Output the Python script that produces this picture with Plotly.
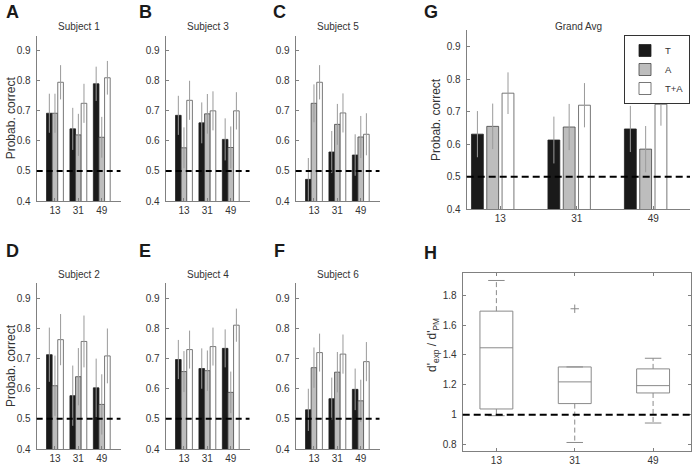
import plotly.graph_objects as go

FIG_W, FIG_H = 692, 467

# ---------------- data ----------------
intensity_labels = ["13", "31", "49"]
conditions = ["T", "A", "T+A"]

subject_titles = ["Subject 1", "Subject 3", "Subject 5", "Subject 2", "Subject 4", "Subject 6"]
panel_letters = ["A", "B", "C", "D", "E", "F"]

# rows: T, A, T+A ; columns: intensities 13, 31, 49
subj1_mean = [[0.692, 0.640, 0.790], [0.692, 0.620, 0.612], [0.795, 0.725, 0.810]]
subj1_err = [[0.065, 0.070, 0.057], [0.065, 0.070, 0.068], [0.057, 0.065, 0.056]]
subj3_mean = [[0.685, 0.660, 0.605], [0.577, 0.690, 0.578], [0.735, 0.700, 0.700]]
subj3_err = [[0.065, 0.068, 0.070], [0.068, 0.066, 0.070], [0.065, 0.065, 0.062]]
subj5_mean = [[0.472, 0.563, 0.553], [0.725, 0.655, 0.613], [0.795, 0.693, 0.622]]
subj5_err = [[0.071, 0.070, 0.069], [0.063, 0.068, 0.070], [0.057, 0.065, 0.070]]
subj2_mean = [[0.713, 0.577, 0.603], [0.610, 0.640, 0.548], [0.763, 0.757, 0.709]]
subj2_err = [[0.090, 0.100, 0.097], [0.100, 0.095, 0.100], [0.085, 0.086, 0.091]]
subj4_mean = [[0.697, 0.667, 0.734], [0.657, 0.660, 0.588], [0.730, 0.740, 0.811]]
subj4_err = [[0.065, 0.067, 0.063], [0.068, 0.067, 0.069], [0.063, 0.063, 0.055]]
subj6_mean = [[0.530, 0.567, 0.598], [0.670, 0.655, 0.560], [0.720, 0.715, 0.690]]
subj6_err = [[0.070, 0.070, 0.069], [0.067, 0.067, 0.070], [0.063, 0.065, 0.065]]

grand_mean = [[0.631, 0.613, 0.647], [0.655, 0.653, 0.585], [0.757, 0.720, 0.723]]
grand_err = [[0.071, 0.072, 0.071], [0.070, 0.071, 0.071], [0.064, 0.068, 0.066]]

chance_level = 0.5
prob_ticks = [0.4, 0.5, 0.6, 0.7, 0.8, 0.9]
prob_ticklabels = ["0.4", "0.5", "0.6", "0.7", "0.8", "0.9"]

# panel H: d'exp / d'PM box statistics per intensity
ratio_lo = [0.994, 0.815, 0.945]
ratio_q1 = [1.039, 1.075, 1.146]
ratio_med = [1.448, 1.220, 1.195]
ratio_q3 = [1.693, 1.320, 1.307]
ratio_hi = [1.898, 1.320, 1.378]
ratio_outlier_labels = ["31"]
ratio_outlier_values = [1.709]
ratio_reference = 1.0
ratio_ticks = [0.8, 1.0, 1.2, 1.4, 1.6, 1.8]
ratio_ticklabels = ["0.8", "1", "1.2", "1.4", "1.6", "1.8"]

subject_means = [subj1_mean, subj3_mean, subj5_mean, subj2_mean, subj4_mean, subj6_mean]
subject_errs = [subj1_err, subj3_err, subj5_err, subj2_err, subj4_err, subj6_err]

# ---------------- style ----------------
FONT = "Liberation Sans, Arial, sans-serif"
TXT = "#333333"
AXC = "#808080"
bar_fill = ["#1a1a1a", "#bdbdbd", "#ffffff"]
bar_edge = ["#222222", "#444444", "#555555"]
ERRC = "#9a9a9a"
BOXC = "#8a8a8a"


def fx(px):
    return px / FIG_W


def fy(py):
    return 1 - py / FIG_H


def ax_id(n):
    return ("x" if n == 1 else f"x{n}"), ("y" if n == 1 else f"y{n}")


xpos = list(range(1, len(intensity_labels) + 1))

# pixel boxes (left, right, top, bottom)
subj_boxes = [
    (36.7, 120.5, 35.7, 201.0), (165.7, 249.5, 35.7, 201.0), (295.7, 379.5, 35.7, 201.0),
    (36.7, 120.5, 283.3, 449.0), (165.7, 249.5, 283.3, 449.0), (295.7, 379.5, 283.3, 449.0),
]
g_box = (466.7, 690.0, 30.4, 209.3)
h_box = (462.7, 690.7, 272.7, 450.7)

fig = go.Figure()
layout = dict(
    width=FIG_W, height=FIG_H, margin=dict(l=0, r=0, t=0, b=0, autoexpand=False),
    paper_bgcolor="white", plot_bgcolor="white",
    font=dict(family=FONT, size=10, color=TXT),
    barmode="overlay", showlegend=True,
)
shapes = []
annotations = []


def axis_common():
    return dict(showline=True, linecolor=AXC, linewidth=1, ticks="inside", ticklen=3,
                tickcolor=AXC, showgrid=False, zeroline=False, automargin=False,
                tickfont=dict(family=FONT, size=10, color=TXT))


def layout_key(letter, n):
    return f"{letter}axis" if n == 1 else f"{letter}axis{n}"


# ---------- subject panels ----------
sub_w = 0.24
for k in range(6):
    n = k + 1
    xa, ya = ax_id(n)
    l, r, t, b = subj_boxes[k]
    for j, cond in enumerate(conditions):
        fig.add_trace(go.Bar(
            x=xpos, y=subject_means[k][j], width=sub_w, offset=-1.5 * sub_w + j * sub_w,
            xaxis=xa, yaxis=ya, name=cond, showlegend=False,
            marker=dict(color=bar_fill[j], line=dict(color=bar_edge[j], width=0.8)),
            error_y=dict(type="data", array=subject_errs[k][j], color=ERRC, thickness=1, width=0),
        ))
    xd = axis_common()
    xd.update(domain=[fx(l), fx(r)], range=[0.22, 3.8], tickvals=xpos, ticktext=intensity_labels,
              anchor=ya)
    yd = axis_common()
    yd.update(domain=[fy(b), fy(t)], range=[0.4, 0.95], tickvals=prob_ticks,
              ticktext=prob_ticklabels, anchor=xa, ticklabelstandoff=3)
    layout[layout_key("x", n)] = xd
    layout[layout_key("y", n)] = yd
    shapes.append(dict(type="line", xref=f"{xa} domain", yref=ya, x0=0, x1=1,
                       y0=chance_level, y1=chance_level, layer="above",
                       line=dict(color="black", width=2, dash="6px,4px")))
    annotations.append(dict(text=subject_titles[k], xref="paper", yref="paper",
                            x=fx((l + r) / 2), y=fy(t - 9.3),
                            showarrow=False, font=dict(size=10, color=TXT),
                            xanchor="center", yanchor="middle"))

# ---------- panel G ----------
g_w = 0.155
for j, cond in enumerate(conditions):
    fig.add_trace(go.Bar(
        x=xpos, y=grand_mean[j], width=g_w, offset=-0.3 - g_w / 2 + 0.2 * j,
        xaxis="x7", yaxis="y7", name=cond, showlegend=True,
        marker=dict(color=bar_fill[j], line=dict(color=bar_edge[j], width=0.8)),
        error_y=dict(type="data", array=grand_err[j], color=ERRC, thickness=1, width=0),
    ))
l, r, t, b = g_box
xd = axis_common()
xd.update(domain=[fx(l), fx(r)], range=[0.56, 3.48], tickvals=xpos, ticktext=intensity_labels,
          anchor="y7")
yd = axis_common()
yd.update(domain=[fy(b), fy(t)], range=[0.4, 0.95], tickvals=prob_ticks, ticktext=prob_ticklabels,
          anchor="x7", ticklabelstandoff=3)
layout["xaxis7"] = xd
layout["yaxis7"] = yd
shapes.append(dict(type="line", xref="x7 domain", yref="y7", x0=0, x1=1,
                   y0=chance_level, y1=chance_level, layer="above",
                   line=dict(color="black", width=2, dash="7px,4px")))
annotations.append(dict(text="Grand Avg", xref="paper", yref="paper", x=fx((l + r) / 2),
                        y=fy(26.7), showarrow=False, font=dict(size=10, color=TXT),
                        xanchor="center", yanchor="middle"))
layout["legend"] = dict(x=fx(690), y=fy(35), xanchor="right", yanchor="top",
                        bgcolor="white", bordercolor="#333333", borderwidth=1,
                        font=dict(size=9.5, color=TXT), tracegroupgap=0,
                        itemwidth=30)

# ---------- panel H ----------
hw, cw = 0.21, 0.105
bx, by, mx, my, wx, wy, cx, cy = [], [], [], [], [], [], [], []
for i, c in enumerate(xpos):
    bx += [c - hw, c + hw, c + hw, c - hw, c - hw, None]
    by += [ratio_q1[i], ratio_q1[i], ratio_q3[i], ratio_q3[i], ratio_q1[i], None]
    mx += [c - hw, c + hw, None]
    my += [ratio_med[i], ratio_med[i], None]
    wx += [c, c, None, c, c, None]
    wy += [ratio_q3[i], ratio_hi[i], None, ratio_q1[i], ratio_lo[i], None]
    cx += [c - cw, c + cw, None, c - cw, c + cw, None]
    cy += [ratio_hi[i], ratio_hi[i], None, ratio_lo[i], ratio_lo[i], None]
for xs, ys, dash in [(wx, wy, "5px,3px"), (cx, cy, "solid"), (bx, by, "solid"), (mx, my, "solid")]:
    fig.add_trace(go.Scatter(x=xs, y=ys, mode="lines", xaxis="x8", yaxis="y8", showlegend=False,
                             line=dict(color=BOXC, width=1, dash=dash), hoverinfo="skip"))
ox = [xpos[intensity_labels.index(lbl)] for lbl in ratio_outlier_labels]
fig.add_trace(go.Scatter(x=ox, y=ratio_outlier_values, mode="markers", xaxis="x8", yaxis="y8",
                         showlegend=False,
                         marker=dict(symbol="cross-thin", size=6, line=dict(color=BOXC, width=1))))
l, r, t, b = h_box
xd = axis_common()
xd.update(domain=[fx(l), fx(r)], range=[0.57, 3.48], tickvals=xpos, ticktext=intensity_labels,
          anchor="y8", mirror="ticks")
yd = axis_common()
yd.update(domain=[fy(b), fy(t)], range=[0.76, 1.95], tickvals=ratio_ticks,
          ticktext=ratio_ticklabels, anchor="x8", mirror="ticks", ticklabelstandoff=3)
layout["xaxis8"] = xd
layout["yaxis8"] = yd
shapes.append(dict(type="line", xref="x8 domain", yref="y8", x0=0, x1=1,
                   y0=ratio_reference, y1=ratio_reference, layer="above",
                   line=dict(color="black", width=2, dash="7px,4px")))

# ---------- axis titles & letters ----------
for (xc, yc) in [(11, 118.3), (11, 366), (436, 119.9)]:
    annotations.append(dict(text="Probab. correct", xref="paper", yref="paper", x=fx(xc), y=fy(yc),
                            textangle=-90, showarrow=False, font=dict(size=12, color=TXT),
                            xanchor="center", yanchor="middle"))
annotations.append(dict(text="d'<sub>exp</sub> / d'<sub>PM</sub>", xref="paper", yref="paper",
                        x=fx(433), y=fy(345), textangle=-90, showarrow=False,
                        font=dict(size=12, color=TXT), xanchor="center", yanchor="middle"))

letter_pos = [(4, 11.7), (137.3, 11.7), (270.7, 11.7), (4, 251), (137.3, 251), (272.3, 251)]
for lt, (lx, ly) in zip(panel_letters, letter_pos):
    annotations.append(dict(text=f"<b>{lt}</b>", xref="paper", yref="paper", x=fx(lx), y=fy(ly),
                            showarrow=False, font=dict(size=18, color="#1a1a1a"),
                            xanchor="left", yanchor="middle"))
for lt, (lx, ly) in zip(["G", "H"], [(422.3, 11.7), (422.3, 252.5)]):
    annotations.append(dict(text=f"<b>{lt}</b>", xref="paper", yref="paper", x=fx(lx), y=fy(ly),
                            showarrow=False, font=dict(size=18, color="#1a1a1a"),
                            xanchor="left", yanchor="middle"))

layout["shapes"] = shapes
layout["annotations"] = annotations
fig.update_layout(**layout)
fig.write_html("out.html", config={"displayModeBar": False},
               post_script="document.body.style.margin='0px';")
